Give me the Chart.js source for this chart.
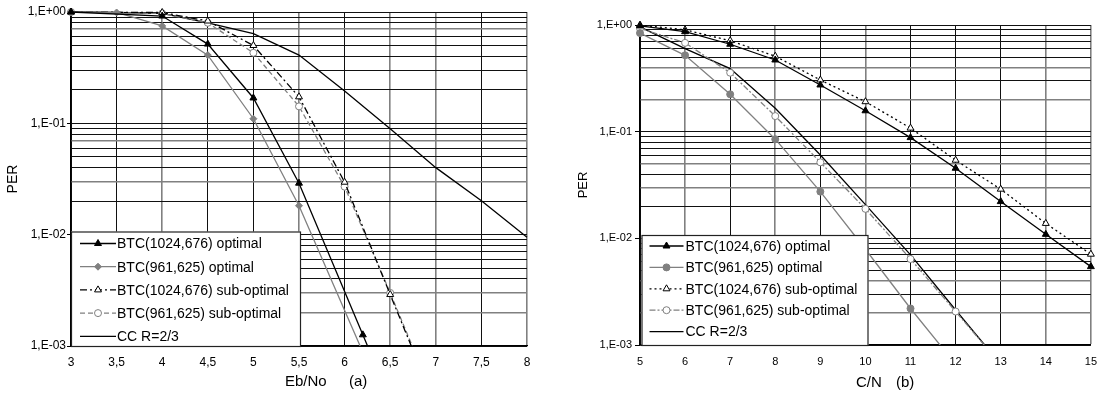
<!DOCTYPE html>
<html>
<head>
<meta charset="utf-8">
<script src="https://cdn.jsdelivr.net/npm/chart.js@4/dist/chart.umd.min.js"></script>
<style>
  html, body { margin: 0; padding: 0; background: #fff; }
  #wrap { position: relative; width: 1103px; height: 394px; }
  #chartA { position: absolute; left: 0; top: 0; }
  #chartB { position: absolute; left: 552px; top: 0; }
</style>
</head>
<body>
<div id="wrap">
  <canvas id="chartA" width="548" height="394"></canvas>
  <canvas id="chartB" width="551" height="394"></canvas>
</div>
<script>
// ---- data, chart (a): PER vs Eb/No ----
const aOpt1024X = [3, 4, 4.5, 5, 5.5, 6.2, 6.5];
const aOpt1024Y = [1.0, 0.92, 0.515, 0.169, 0.029, 0.00126, 0.00033];
const aOpt961X = [3, 3.5, 4, 4.5, 5, 5.5, 6.5];
const aOpt961Y = [1.0, 0.99, 0.75, 0.41, 0.11, 0.0182, 0.00024];
const aSub1024X = [3, 4, 4.5, 5, 5.5, 6, 6.5, 7];
const aSub1024Y = [1.0, 0.99, 0.83, 0.5, 0.173, 0.0296, 0.0029, 0.00029];
const aSub961X = [3, 4, 4.5, 5, 5.5, 6, 6.5, 7];
const aSub961Y = [1.0, 0.97, 0.8, 0.43, 0.142, 0.027, 0.003, 0.00031];
const aCcX = [3, 3.5, 4, 4.5, 5, 5.5, 6, 6.5, 7, 7.5, 8];
const aCcY = [1.0, 0.99, 0.97, 0.8, 0.64, 0.41, 0.195, 0.0896, 0.040, 0.0202, 0.0095];

// ---- data, chart (b): PER vs C/N ----
const bOpt1024X = [5, 6, 7, 8, 9, 10, 11, 12, 13, 14, 15];
const bOpt1024Y = [0.98, 0.865, 0.66, 0.47, 0.274, 0.157, 0.088, 0.0454, 0.0221, 0.0109, 0.00543];
const bSub1024X = [5, 6, 7, 8, 9, 10, 11, 12, 13, 14, 15];
const bSub1024Y = [1.0, 0.9, 0.713, 0.51, 0.305, 0.191, 0.108, 0.054, 0.0289, 0.0138, 0.0071];
const bOpt961X = [5, 6, 7, 8, 9, 10, 11, 12];
const bOpt961Y = [0.84, 0.52, 0.224, 0.085, 0.0274, 0.0079, 0.0022, 0.00066];
const bSub961X = [5, 6, 7, 8, 9, 10, 11, 12, 13];
const bSub961Y = [0.93, 0.68, 0.357, 0.14, 0.0516, 0.0189, 0.0064, 0.00206, 0.00066];
const bCcX = [5, 6, 7, 8, 9, 10, 11, 12, 13];
const bCcY = [0.96, 0.6, 0.39, 0.166, 0.0605, 0.0207, 0.00699, 0.00213, 0.00066];

const labels = ["BTC(1024,676) optimal", "BTC(961,625) optimal", "BTC(1024,676) sub-optimal",
                "BTC(961,625) sub-optimal", "CC R=2/3"];
const perTicks = [0.001, 0.002, 0.003, 0.004, 0.005, 0.006, 0.007, 0.008, 0.009,
                  0.01, 0.02, 0.03, 0.04, 0.05, 0.06, 0.07, 0.08, 0.09,
                  0.1, 0.2, 0.3, 0.4, 0.5, 0.6, 0.7, 0.8, 0.9, 1];
const decades = [0.001, 0.01, 0.1, 1];

const BLACK = "#000";
const GRAY = "#808080";
const FONT = "'Liberation Sans', Arial, sans-serif";

function pts(xs, ys) {
  return xs.map((x, i) => ({ x: x, y: ys[i] }));
}

function series(label, xs, ys, style) {
  return Object.assign({
    label: label,
    data: pts(xs, ys),
    tension: 0,
    borderWidth: 1.3,
    pointBorderWidth: 1,
    clip: { left: 6, top: 8, right: 6, bottom: 0 },
  }, style);
}

function isNear(v, list) {
  return list.some(g => Math.abs(g - v) < 1e-9);
}

function perLabel(v) {
  if (!isNear(v, decades)) return "";
  const e = Math.round(Math.log10(v));
  return "1,E" + (e < 0 ? "-" : "+") + String(Math.abs(e)).padStart(2, "0");
}

// legend drawn inside the plot, over the lines
const boxLegend = {
  id: "boxLegend",
  afterDatasetsDraw(chart, args, opts) {
    const ctx = chart.ctx;
    const a = chart.chartArea;
    const left = a.left + opts.dx, top = opts.top, right = left + opts.w, bottom = a.bottom;
    ctx.save();
    ctx.fillStyle = "#fff";
    ctx.fillRect(left, top, right - left, bottom - top);
    ctx.strokeStyle = "#222";
    ctx.lineWidth = 1.2;
    ctx.strokeRect(left + 0.5, top + 0.5, right - left - 1, bottom - top);
    chart.data.datasets.forEach((ds, i) => {
      const y = top + opts.row0 + i * opts.step;
      const x1 = left + opts.s1, x2 = left + opts.s2;
      ctx.setLineDash(ds.borderDash || []);
      ctx.strokeStyle = ds.borderColor;
      ctx.lineWidth = 1.3;
      ctx.beginPath();
      ctx.moveTo(x1, y);
      ctx.lineTo(x2, y);
      ctx.stroke();
      ctx.setLineDash([]);
      if (ds.pointRadius > 0) {
        ctx.fillStyle = ds.pointBackgroundColor || ds.backgroundColor;
        ctx.strokeStyle = ds.pointBorderColor || ds.borderColor;
        ctx.lineWidth = 1;
        Chart.helpers.drawPoint(ctx, {
          pointStyle: ds.pointStyle, rotation: 0, radius: ds.pointRadius, borderWidth: 1
        }, (x1 + x2) / 2, y);
      }
      ctx.fillStyle = "#000";
      ctx.font = "14px " + FONT;
      ctx.textAlign = "left";
      ctx.textBaseline = "middle";
      ctx.fillText(ds.label, left + opts.tx, y + 1);
    });
    ctx.restore();
  }
};

// axis titles
const axisTitles = {
  id: "axisTitles",
  afterDraw(chart, args, opts) {
    const ctx = chart.ctx;
    const a = chart.chartArea;
    ctx.save();
    ctx.fillStyle = "#000";
    ctx.textBaseline = "middle";
    ctx.font = opts.ySize + "px " + FONT;
    ctx.translate(opts.yx, (a.top + a.bottom) / 2);
    ctx.rotate(-Math.PI / 2);
    ctx.textAlign = "center";
    ctx.fillText("PER", 0, 0);
    ctx.restore();
    ctx.save();
    ctx.fillStyle = "#000";
    ctx.textBaseline = "middle";
    ctx.textAlign = "left";
    ctx.font = opts.xSize + "px " + FONT;
    ctx.fillText(opts.xText, opts.xx, opts.xy);
    ctx.fillText(opts.tag, opts.tagx, opts.xy);
    ctx.restore();
  }
};

function makeChart(id, datasets, cfg) {
  return new Chart(document.getElementById(id), {
    type: "line",
    data: { datasets: datasets },
    options: {
      responsive: false,
      devicePixelRatio: 1,
      animation: false,
      events: [],
      layout: { padding: cfg.padding },
      plugins: {
        legend: { display: false },
        tooltip: { enabled: false },
        boxLegend: cfg.legend,
        axisTitles: cfg.titles,
      },
      scales: {
        x: {
          type: "linear",
          min: cfg.xMin,
          max: cfg.xMax,
          afterFit: s => { s.height = cfg.xHeight; },
          ticks: {
            stepSize: cfg.xStep,
            color: "#000",
            padding: cfg.xPad,
            font: { family: FONT, size: cfg.tickSize },
            callback: v => String(v).replace(".", ","),
          },
          grid: {
            color: c => isNear(c.tick.value, cfg.xGray) ? GRAY : "#111",
            lineWidth: c => isNear(c.tick.value, cfg.xGray) ? 1.6 : 1,
            tickColor: "rgba(0,0,0,0)",
            tickLength: 4,
          },
          border: { color: "#000", width: 1.3 },
        },
        y: {
          type: "logarithmic",
          min: 0.001,
          max: 1,
          afterFit: s => { s.width = cfg.yWidth; },
          afterBuildTicks: s => { s.ticks = perTicks.map(v => ({ value: v })); },
          ticks: {
            autoSkip: false,
            color: "#000",
            padding: cfg.yPad,
            font: { family: FONT, size: cfg.tickSize },
            callback: v => perLabel(v),
          },
          grid: {
            color: c => isNear(c.tick.value, cfg.yGray) ? GRAY : "#111",
            lineWidth: c => isNear(c.tick.value, cfg.yGray) ? 1.6 : 1,
            tickColor: c => isNear(c.tick.value, decades) ? "#000" : "rgba(0,0,0,0)",
            tickLength: cfg.yTick,
          },
          border: { color: "#000", width: 1.3 },
        },
      },
    },
    plugins: [boxLegend, axisTitles],
  });
}

const triFilled = { borderColor: BLACK, backgroundColor: BLACK, pointStyle: "triangle", pointRadius: 4 };
const triOpen = { borderColor: BLACK, backgroundColor: "#fff", pointBackgroundColor: "#fff",
                  pointBorderColor: BLACK, pointStyle: "triangle", pointRadius: 4 };
const circOpen = { borderColor: GRAY, backgroundColor: "#fff", pointBackgroundColor: "#fff",
                   pointBorderColor: GRAY, pointStyle: "circle", pointRadius: 3.5 };
const plain = { borderColor: BLACK, backgroundColor: BLACK, pointRadius: 0 };

makeChart("chartA", [
  series(labels[0], aOpt1024X, aOpt1024Y, triFilled),
  series(labels[1], aOpt961X, aOpt961Y, { borderColor: GRAY, backgroundColor: GRAY, pointStyle: "rectRot", pointRadius: 3.5 }),
  series(labels[2], aSub1024X, aSub1024Y, Object.assign({ borderDash: [7, 3, 2, 3] }, triOpen)),
  series(labels[3], aSub961X, aSub961Y, Object.assign({ borderDash: [5, 3] }, circOpen)),
  series(labels[4], aCcX, aCcY, plain),
], {
  padding: { top: 12, right: 21, left: 0, bottom: 0 },
  xMin: 3, xMax: 8, xStep: 0.5, xHeight: 48, xPad: 5,
  yWidth: 71, yPad: 1, yTick: 4, tickSize: 12,
  xGray: [4, 5.5, 6.5, 7, 8],
  yGray: [0.7, 0.07, 0.03, 0.003, 0.002],
  legend: { dx: 0, top: 231.5, w: 230, row0: 12, step: 23.2, s1: 9, s2: 45, tx: 46 },
  titles: { yx: 13, ySize: 14, xSize: 15, xText: "Eb/No", xx: 285, tag: "(a)", tagx: 349, xy: 382 },
});

makeChart("chartB", [
  series(labels[0], bOpt1024X, bOpt1024Y, triFilled),
  series(labels[1], bOpt961X, bOpt961Y, { borderColor: GRAY, backgroundColor: GRAY, pointStyle: "circle", pointRadius: 3.5 }),
  series(labels[2], bSub1024X, bSub1024Y, Object.assign({ borderDash: [2, 3] }, triOpen)),
  series(labels[3], bSub961X, bSub961Y, Object.assign({ borderDash: [6, 2, 2, 2] }, circOpen)),
  series(labels[4], bCcX, bCcY, plain),
], {
  padding: { top: 25, right: 10, left: 0, bottom: 0 },
  xMin: 5, xMax: 15, xStep: 1, xHeight: 49, xPad: 6,
  yWidth: 88, yPad: 3, yTick: 5, tickSize: 11,
  xGray: [6, 8, 10, 14, 15],
  yGray: [0.4, 0.2, 0.05, 0.03, 0.004, 0.002],
  legend: { dx: 1.5, top: 235, w: 227, row0: 11, step: 21.4, s1: 8, s2: 42, tx: 44 },
  titles: { yx: 31, ySize: 13, xSize: 15, xText: "C/N", xx: 304, tag: "(b)", tagx: 344, xy: 383 },
});
</script>
</body>
</html>
